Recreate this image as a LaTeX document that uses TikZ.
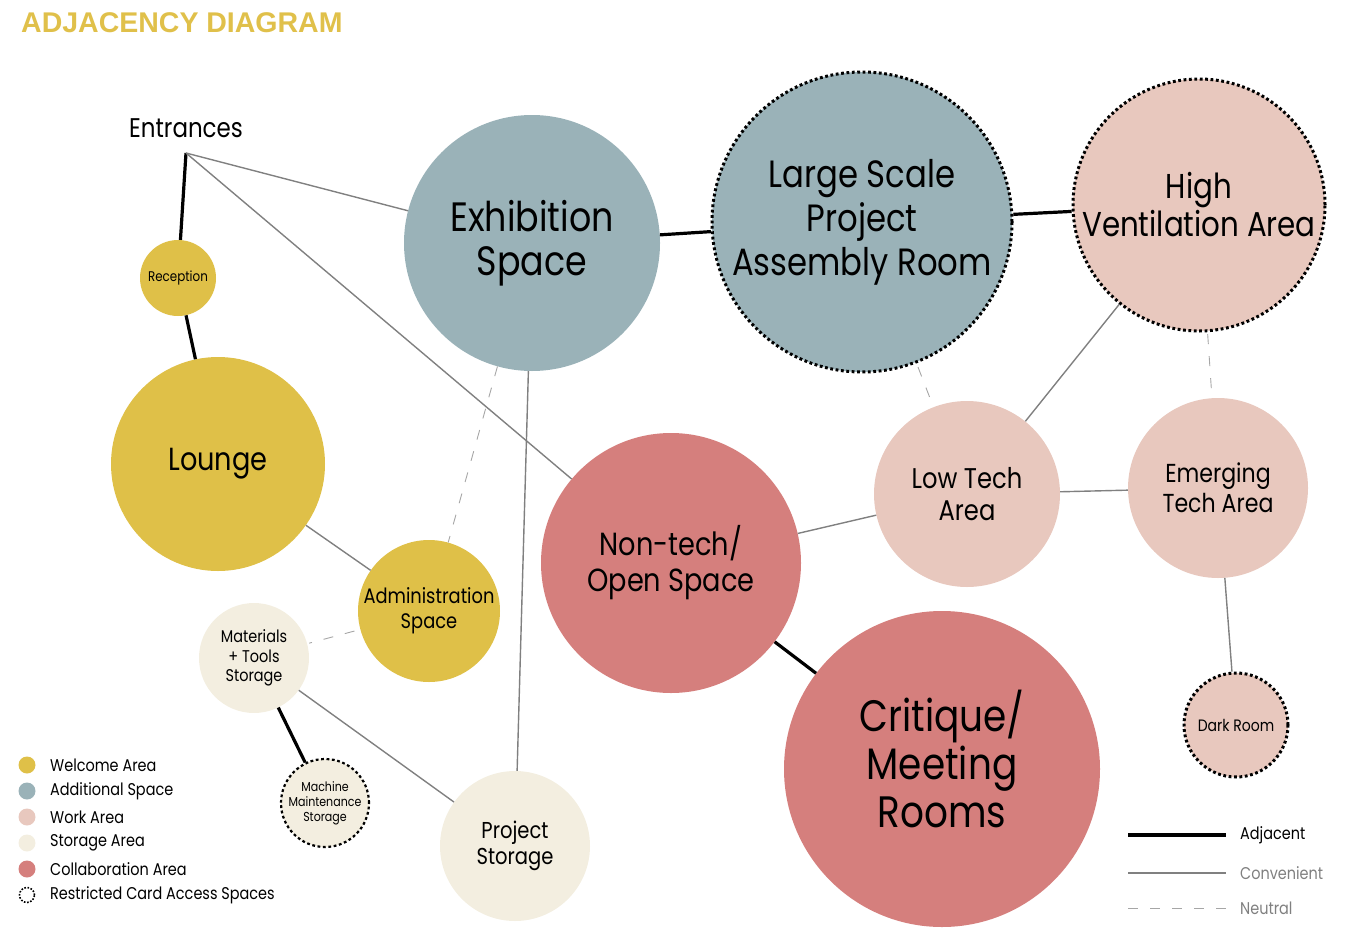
\documentclass[tikz,border=0pt]{standalone}
\usepackage{fontspec}
\setmainfont{Poppins}[FakeStretch=0.85]
\newfontfamily\titlefont{Liberation Sans}
\definecolor{welcome}{HTML}{DFC048}
\definecolor{additional}{HTML}{9AB2B8}
\definecolor{work}{HTML}{E8C8BE}
\definecolor{storage}{HTML}{F3EEE0}
\definecolor{collab}{HTML}{D57F7D}
\definecolor{titlegold}{HTML}{E0C04A}

\begin{document}
\begin{tikzpicture}[x=1pt, y=-1pt,
  room/.style={circle, inner sep=0pt, align=center, text=black},
  welcome/.style={room, fill=welcome},
  additional/.style={room, fill=additional},
  work/.style={room, fill=work},
  storage/.style={room, fill=storage},
  collab/.style={room, fill=collab},
  restricted/.style={draw=black, line width=3pt, dash pattern=on 2.8pt off 2.6pt},
  adjacent/.style={line width=3.2pt, black},
  convenient/.style={line width=1.4pt, black!50},
  neutral/.style={line width=0.9pt, black!35, dash pattern=on 10pt off 12pt},
  keytext/.style={anchor=west, inner sep=0pt, font=\fontsize{17}{19}\selectfont}]

 \useasboundingbox (0,0) rectangle (1366,937);

 \node [anchor=north west, inner sep=0pt, text=titlegold,
     font=\titlefont\bfseries\fontsize{28.5}{32}\selectfont] (title) at (21,12)
     {ADJACENCY DIAGRAM};

 \coordinate (entrance_point) at (186,153);
 \node [font=\fontsize{27}{30}\selectfont] (entrances) at (186,128)
     {Entrances};

 \node [welcome, minimum size=76pt, font=\fontsize{14}{16}\selectfont] (room_reception) at (178,278)
     {Reception};

 \node [welcome, minimum size=214pt, font=\fontsize{32}{36}\selectfont] (room_lounge) at (218,464)
     {Lounge};

 \node [welcome, minimum size=142pt, font=\fontsize{21}{25}\selectfont] (room_admin) at (429,611)
     {Administration\\Space};

 \node [additional, minimum size=256pt, font=\fontsize{41}{44}\selectfont] (room_exhibition) at (532,243)
     {Exhibition\\Space};

 \node [additional, restricted, minimum size=300pt, font=\fontsize{38}{44}\selectfont] (room_assembly) at (862,222)
     {Large Scale\\Project\\Assembly Room};

 \node [work, restricted, minimum size=252pt, font=\fontsize{34.5}{38}\selectfont] (room_ventilation) at (1199,205)
     {High\\Ventilation Area};

 \node [work, minimum size=186pt, font=\fontsize{28.5}{32}\selectfont] (room_lowtech) at (967,494)
     {Low Tech\\Area};

 \node [work, minimum size=180pt, font=\fontsize{26}{30}\selectfont] (room_emerging) at (1218,488)
     {Emerging\\Tech Area};

 \node [work, restricted, minimum size=104pt, font=\fontsize{16.5}{18}\selectfont] (room_dark) at (1236,725)
     {Dark Room};

 \node [collab, minimum size=260pt, font=\fontsize{32}{36}\selectfont] (room_nontech) at (671,563)
     {Non-tech/\\Open Space};

 \node [collab, minimum size=316pt,
     label={[align=center, font=\fontsize{44}{48}\selectfont, yshift=10pt]center:{Critique/\\Meeting\\Rooms}}]
     (room_critique) at (942,769) {};

 \node [storage, minimum size=110pt, font=\fontsize{17}{19.5}\selectfont] (room_materials) at (254,658)
     {Materials\\+ Tools\\Storage};

 \node [storage, restricted, line width=2.2pt, minimum size=88pt, font=\fontsize{13}{15}\selectfont] (room_machine) at (325,803)
     {Machine\\Maintenance\\Storage};

 \node [storage, minimum size=150pt, font=\fontsize{23}{26}\selectfont] (room_project) at (515,846)
     {Project\\Storage};

 % adjacent
 \draw [adjacent] (entrance_point) -- (room_reception);
 \draw [adjacent] (room_reception) -- (room_lounge);
 \draw [adjacent] (room_exhibition) -- (room_assembly);
 \draw [adjacent] (room_assembly) -- (room_ventilation);
 \draw [adjacent] (room_nontech) -- (room_critique);
 \draw [adjacent] (room_materials) -- (room_machine);

 % convenient
 \draw [convenient] (entrance_point) -- (room_exhibition);
 \draw [convenient] (entrance_point) -- (room_nontech);
 \draw [convenient] (room_lounge) -- (room_admin);
 \draw [convenient] (room_exhibition) -- (room_project);
 \draw [convenient] (room_materials) -- (room_project);
 \draw [convenient] (room_nontech) -- (room_lowtech);
 \draw [convenient] (room_lowtech) -- (room_ventilation);
 \draw [convenient] (room_lowtech) -- (room_emerging);
 \draw [convenient] (room_emerging) -- (room_dark);

 % neutral
 \draw [neutral] (room_exhibition) -- (room_admin);
 \draw [neutral, shorten <=6pt, shorten >=2pt] (room_admin) -- (room_materials);
 \draw [neutral, shorten <=4pt, shorten >=2pt] (room_assembly) -- (room_lowtech);
 \draw [neutral, shorten <=2pt, shorten >=2pt] (room_ventilation) -- (room_emerging);

 % key of colours
 \node [welcome, minimum size=17pt] (key_welcome) at (27,765) {};
 \node [additional, minimum size=17pt] (key_additional) at (27,791) {};
 \node [work, minimum size=17pt] (key_work) at (27,817) {};
 \node [storage, minimum size=17pt] (key_storage) at (27,843) {};
 \node [collab, minimum size=17pt] (key_collab) at (27,869) {};
 \node [room, draw=black, line width=1.6pt, dash pattern=on 1.6pt off 1.6pt, minimum size=15pt] (key_restricted) at (27,895) {};

 \node [keytext] (key_welcome_text) at (50,765) {Welcome Area};
 \node [keytext] (key_additional_text) at (50,791) {Additional Space};
 \node [keytext] (key_work_text) at (50,817) {Work Area};
 \node [keytext] (key_storage_text) at (50,843) {Storage Area};
 \node [keytext] (key_collab_text) at (50,869) {Collaboration Area};
 \node [keytext] (key_restricted_text) at (50,895) {Restricted Card Access Spaces};

 % key of lines
 \coordinate (key_adjacent_a) at (1128,835);
 \coordinate (key_adjacent_b) at (1226,835);
 \coordinate (key_convenient_a) at (1128,873);
 \coordinate (key_convenient_b) at (1226,873);
 \coordinate (key_neutral_a) at (1128,908);
 \coordinate (key_neutral_b) at (1226,908);

 \draw [adjacent] (key_adjacent_a) -- (key_adjacent_b);
 \draw [convenient] (key_convenient_a) -- (key_convenient_b);
 \draw [neutral] (key_neutral_a) -- (key_neutral_b);

 \node [keytext] (key_adjacent_text) at (1240,835) {Adjacent};
 \node [keytext, text=black!50] (key_convenient_text) at (1240,873) {Convenient};
 \node [keytext, text=black!50] (key_neutral_text) at (1240,908) {Neutral};

\end{tikzpicture}
\end{document}
